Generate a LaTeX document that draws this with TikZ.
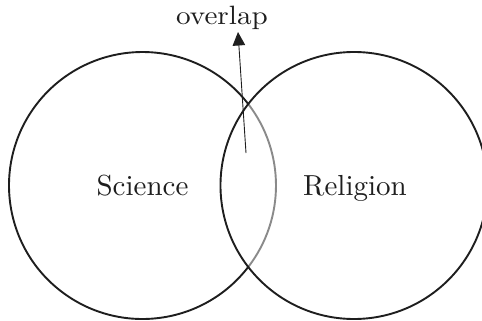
\documentclass[tikz,border=0pt]{standalone}
\usepackage{fontspec}
\setmainfont{lmroman10-regular.otf}
\usetikzlibrary{arrows.meta}
\definecolor{ink}{HTML}{1E1E1E}
\definecolor{lens}{HTML}{8A8A8A}
\tikzset{
  ring/.style={draw=ink, line width=1.9pt},
  lensarc/.style={draw=lens, line width=1.9pt},
  label/.style={inner sep=0pt, anchor=base, text=ink, font=\fontsize{29}{34}\selectfont},
  toplabel/.style={inner sep=0pt, anchor=base, text=ink, font=\fontsize{26.5}{32}\selectfont},
  pointer/.style={draw=ink, line width=0.9pt, -{Triangle[length=13.5pt,width=12.5pt]}}
}
\begin{document}
\begin{tikzpicture}[x=1pt,y=-1pt]
  \useasboundingbox (0,0) rectangle (482,321);
  \clip (0,0) rectangle (482,321);
  % left circle: centre (142.5,185.5), r=133.5 ; right circle: centre (354,185.5)
  \draw[lensarc] (142.5,185.5) ++(-37.6:133.5) arc[start angle=-37.6, end angle=37.6, radius=133.5];
  \draw[ring] (142.5,185.5) ++(37.6:133.5) arc[start angle=37.6, end angle=322.4, radius=133.5];
  \draw[ring] (354,185.5) circle[radius=133.5];
  \node[label] (sci) at (142.5,195) {Science};
  \node[label] (rel) at (355,195) {Religion};
  \node[toplabel] (ovl) at (222,25) {\scalebox{1.1}[1]{overlap}};
  \coordinate (tail) at (246,153);
  \coordinate (tip) at (238,32);
  \draw[pointer] (tail) -- (tip);
\end{tikzpicture}
\end{document}
